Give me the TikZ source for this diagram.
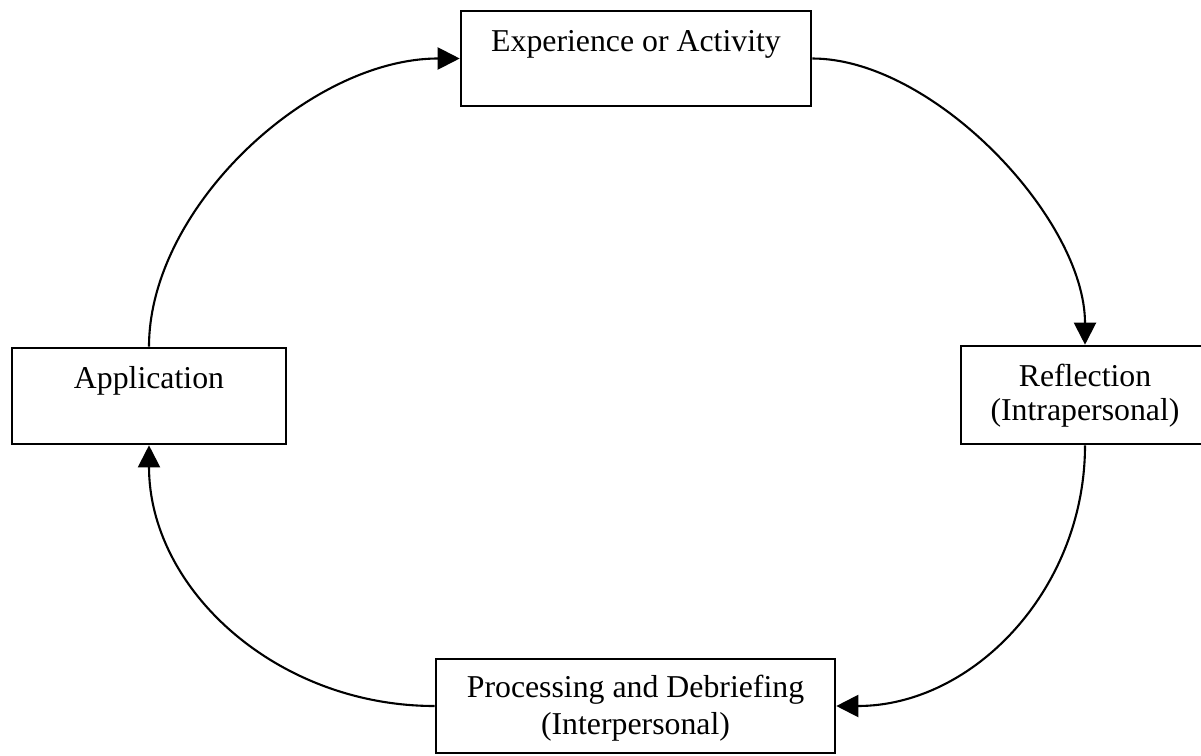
\documentclass[tikz,border=0pt]{standalone}
\usepackage{fontspec}
\setmainfont{Liberation Serif}
\usetikzlibrary{arrows.meta,calc}
\begin{document}
\begin{tikzpicture}[x=1pt,y=-1pt,
  box/.style={draw=black, line width=2.6pt, rectangle, inner sep=0pt},
  lbl/.style={anchor=base, inner sep=0pt, font=\fontsize{31.8pt}{37pt}\selectfont},
  flow/.style={draw=black, line width=2.1pt, -{Triangle[length=22pt,width=22pt]}}]
\fill[white] (0,0) rectangle (1201,755);
\useasboundingbox (0,0) rectangle (1201,755);
\clip (0,0) rectangle (1201,755);

\node[box, minimum width=350pt, minimum height=95pt] (exp) at (636,58.5) {};
\node[box, minimum width=248pt, minimum height=98pt] (refl) at (1085,395) {};
\node[box, minimum width=399pt, minimum height=94pt] (proc) at (635.5,706) {};
\node[box, minimum width=274pt, minimum height=96pt] (app) at (149,396) {};

\node[lbl] (expt) at ($(exp.north)+(0,42)$) {Experience or Activity};
\node[lbl] (reflt1) at ($(refl.north)+(0,42)$) {Reflection};
\node[lbl] (reflt2) at ($(refl.north)+(0,76)$) {(Intrapersonal)};
\node[lbl] (proct1) at ($(proc.north)+(0,40)$) {Processing and Debriefing};
\node[lbl] (proct2) at ($(proc.north)+(0,77)$) {(Interpersonal)};
\node[lbl] (appt) at ($(app.north)+(0,42)$) {Application};

\draw[flow] (exp.east) .. controls +(121,0) and +(0,-126) .. (refl.north);
\draw[flow] (refl.south) .. controls +(0,144) and +(137,0) .. (proc.east);
\draw[flow] (proc.west) .. controls +(-158,0) and +(0,144) .. (app.south);
\draw[flow] (app.north) .. controls +(0,-139) and +(-150,0) .. (exp.west);
\end{tikzpicture}
\end{document}
